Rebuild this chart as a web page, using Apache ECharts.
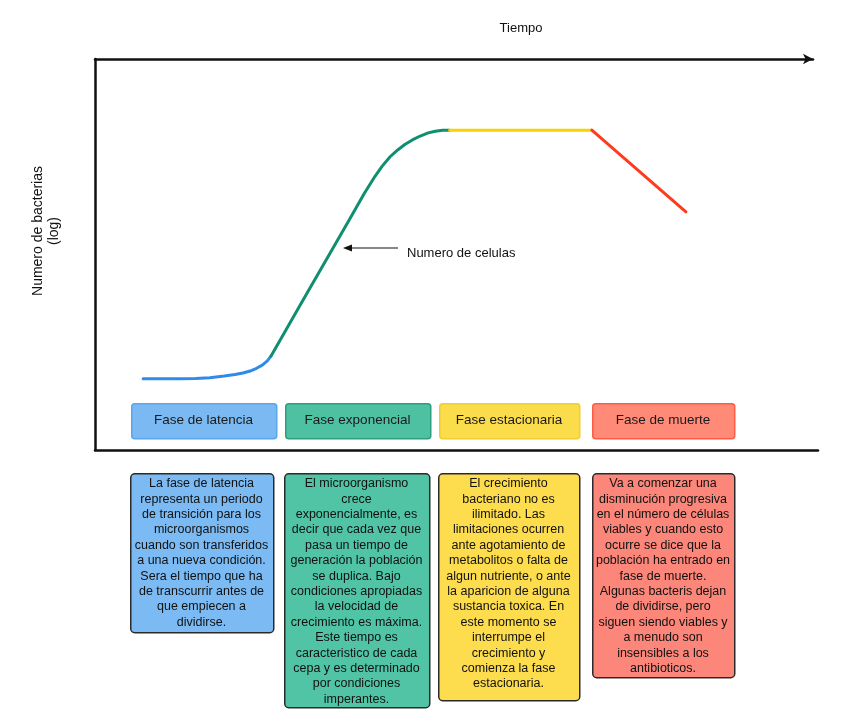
<!DOCTYPE html>
<html><head><meta charset="utf-8">
<script src="https://cdn.jsdelivr.net/npm/echarts@6/dist/echarts.min.js"></script>
<style>html,body{margin:0;padding:0;background:#fff}#c{width:851px;height:719px}</style>
</head><body><div id="c"></div>
<script>
// Growth curve values (time 0-100, log count 0-10)
const latencia = [[6.7,1.82],[9.0,1.82],[11.8,1.82],[14.0,1.83],[16.0,1.85],[18.0,1.89],[19.5,1.93],[20.6,1.97],[21.6,2.02],[22.5,2.09],[23.3,2.17],[24.0,2.28],[24.5,2.40]];
const exponencial = [[24.5,2.40],[29.0,3.84],[35.4,5.88],[37.5,6.56],[39.0,7.0],[40.0,7.26],[41.1,7.50],[42.2,7.68],[43.2,7.82],[44.2,7.93],[45.3,8.03],[46.4,8.11],[47.4,8.15],[48.4,8.175],[49.4,8.18]];
const estacionaria = [[49.4,8.18],[69.2,8.18]];
const muerte = [[69.2,8.18],[82.3,6.09]];

const phaseNames = ['Fase de latencia','Fase exponencial','Fase estacionaria','Fase de muerte'];
const descTexts = [
 'La fase de latencia\nrepresenta un periodo\nde transición para los\nmicroorganismos\ncuando son transferidos\na una nueva condición.\nSera el tiempo que ha\nde transcurrir antes de\nque empiecen a\ndividirse.',
 'El microorganismo\ncrece\nexponencialmente, es\ndecir que cada vez que\npasa un tiempo de\ngeneración la población\nse duplica. Bajo\ncondiciones apropiadas\nla velocidad de\ncrecimiento es máxima.\nEste tiempo es\ncaracteristico de cada\ncepa y es determinado\npor condiciones\nimperantes.',
 'El crecimiento\nbacteriano no es\nilimitado. Las\nlimitaciones ocurren\nante agotamiento de\nmetabolitos o falta de\nalgun nutriente, o ante\nla aparicion de alguna\nsustancia toxica. En\neste momento se\ninterrumpe el\ncrecimiento y\ncomienza la fase\nestacionaria.',
 'Va a comenzar una\ndisminución progresiva\nen el número de células\nviables y cuando esto\nocurre se dice que la\npoblación ha entrado en\nfase de muerte.\nAlgunas bacteris dejan\nde dividirse, pero\nsiguen siendo viables y\na menudo son\ninsensibles a los\nantibioticos.'
];

const FONT = '"Liberation Sans", Arial, sans-serif';
const lineColors = ['#2f8ae8','#0f8f6f','#f7d300','#ff3b1f'];
const phaseFill = ['#7ab9f2','#4fc1a3','#fbdc4a','#ff8a78'];
const phaseStroke = ['#5aa5ec','#2e9e80','#f0cd30','#ff5a44'];
const descFill = ['#7bbaf3','#50c4a4','#fddc4d','#fb8679'];
const phaseBoxes = [[131,403,145,35],[285,403,145,35],[439,403,140,35],[592,403,142,35]];
const descBoxes = [[130,473,143,159],[284,473,145,234],[438,473,141,227],[592,473,142,204]];

const chart = echarts.init(document.getElementById('c'), null, {renderer:'canvas'});
const graphics = [];
phaseNames.forEach((n,i)=>{
  const b = phaseBoxes[i];
  graphics.push({type:'rect', left:b[0], top:b[1], shape:{width:b[2], height:b[3], r:3},
    style:{fill:phaseFill[i], stroke:phaseStroke[i], lineWidth:1.5}, z:10});
  graphics.push({type:'text', x:b[0]+b[2]/2, y:b[1]+b[3]/2, z:11,
    style:{text:n, font:'13.5px '+FONT, fill:'#1a1a1a', textAlign:'center', textVerticalAlign:'middle'}});
});
descTexts.forEach((t,i)=>{
  const b = descBoxes[i];
  graphics.push({type:'rect', left:b[0], top:b[1], shape:{width:b[2], height:b[3], r:4},
    style:{fill:descFill[i], stroke:'#2a2a2a', lineWidth:1.5}, z:10});
  graphics.push({type:'text', x:b[0]+b[2]/2, y:b[1]+3, z:11,
    style:{text:t, font:'12.5px '+FONT, fill:'#111', textAlign:'center', textVerticalAlign:'top', lineHeight:15.4}});
});
graphics.push({type:'text', x:521, y:28, style:{text:'Tiempo', font:'13px '+FONT, fill:'#111', textAlign:'center', textVerticalAlign:'middle'}});
graphics.push({type:'text', x:46, y:231, rotation:Math.PI/2, style:{text:'Numero de bacterias\n(log)', font:'14px '+FONT, fill:'#111', textAlign:'center', textVerticalAlign:'middle', lineHeight:16}});
graphics.push({type:'text', x:407, y:253, style:{text:'Numero de celulas', font:'13px '+FONT, fill:'#111', textAlign:'left', textVerticalAlign:'middle'}});
graphics.push({type:'line', shape:{x1:398,y1:248,x2:350,y2:248}, style:{stroke:'#111', lineWidth:1.2}});
graphics.push({type:'polygon', shape:{points:[[343,248],[352,244.5],[352,251.5]]}, style:{fill:'#111'}});

const mk = (d,i)=>({type:'line', data:d, xAxisIndex:0, yAxisIndex:0, showSymbol:false, symbol:'none',
  smooth:false, lineStyle:{color:lineColors[i], width:3, join:'round', cap:'round'}, silent:true, z:5});

chart.setOption({
  animation:false,
  backgroundColor:'#fff',
  grid:[{left:95,right:38,top:59,bottom:269},{left:95,right:33,top:59,bottom:269}],
  xAxis:[
    {gridIndex:0, type:'value', min:0, max:100, position:'top', splitLine:{show:false}, axisTick:{show:false}, axisLabel:{show:false},
      axisLine:{show:true, onZero:false, symbol:['none','arrow'], symbolSize:[8,10], lineStyle:{color:'#111', width:2.5}}},
    {gridIndex:1, type:'value', min:0, max:100, position:'bottom', splitLine:{show:false}, axisTick:{show:false}, axisLabel:{show:false},
      axisLine:{show:true, onZero:false, lineStyle:{color:'#111', width:2.5}}}
  ],
  yAxis:[
    {gridIndex:0, type:'value', min:0, max:10, splitLine:{show:false}, axisTick:{show:false}, axisLabel:{show:false},
      axisLine:{show:true, onZero:false, lineStyle:{color:'#111', width:2.5}}},
    {gridIndex:1, type:'value', min:0, max:10, show:false}
  ],
  series:[mk(latencia,0), mk(exponencial,1), mk(estacionaria,2), mk(muerte,3)],
  graphic:graphics
});
</script></body></html>
